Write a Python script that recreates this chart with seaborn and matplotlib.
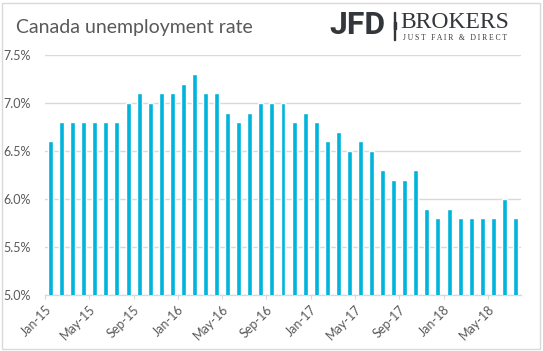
import matplotlib.pyplot as plt
import seaborn as sns
import pandas as pd
import numpy as np
from matplotlib.patches import Rectangle
from matplotlib.ticker import FuncFormatter

# Monthly data, Jan-15 .. Jul-18
months = pd.date_range("2015-01-01", "2018-07-01", freq="MS").strftime("%b-%y").tolist()
rates = [6.6, 6.8, 6.8, 6.8, 6.8, 6.8, 6.8, 7.0, 7.1, 7.0, 7.1, 7.1,
         7.2, 7.3, 7.1, 7.1, 6.9, 6.8, 6.9, 7.0, 7.0, 7.0, 6.8, 6.9,
         6.8, 6.6, 6.7, 6.5, 6.6, 6.5, 6.3, 6.2, 6.2, 6.3, 5.9, 5.8,
         5.9, 5.8, 5.8, 5.8, 5.8, 6.0, 5.8]
y_ticks = [5.0, 5.5, 6.0, 6.5, 7.0, 7.5]
label_step = 4

df = pd.DataFrame({"month": months, "rate": rates})

sns.set_style("white")
plt.rcParams["font.family"] = ["Lato", "DejaVu Sans"]

grey_text = "#595959"
grid_col = "#d9d9d9"
logo_col = "#33363b"

fig = plt.figure(figsize=(5.43, 3.51), dpi=100)
ax = fig.add_axes([45 / 543, 56 / 351, 476 / 543, 240 / 351])

sns.barplot(data=df, x="month", y="rate", ax=ax, color="#00b4dc",
            saturation=1, width=0.45, zorder=3)

ax.set_ylim(5.0, 7.5)
ax.set_yticks(y_ticks)
ax.yaxis.set_major_formatter(FuncFormatter(lambda v, p: f"{v:.1f}%"))
ax.set_xlim(-0.5, len(months) - 0.5)
pos = np.arange(0, len(months), label_step)
ax.set_xticks(pos - 0.5)
ax.set_xticklabels([months[i] for i in pos], rotation=45, ha="right",
                   va="top", rotation_mode="anchor")

ax.set_xlabel("")
ax.set_ylabel("")
ax.grid(axis="y", color=grid_col, linewidth=1, zorder=0)
for s in ["top", "right", "left"]:
    ax.spines[s].set_visible(False)
ax.spines["bottom"].set_color(grid_col)
ax.spines["bottom"].set_linewidth(1)
ax.tick_params(axis="x", labelsize=9, colors=grey_text, length=3,
               color=grid_col, bottom=True, pad=3)
ax.tick_params(axis="y", labelsize=9, colors=grey_text, length=0, pad=10)

# Title
fig.text(16 / 543, 1 - 27 / 351, "Canada unemployment rate", fontsize=14,
         color=grey_text, va="center", ha="left")

# Logo text
fig.text(329 / 543, 1 - 25 / 351, "JFD", fontsize=23, fontweight="bold",
         color=logo_col, va="center", ha="left", family=["Roboto", "DejaVu Sans"])
fig.add_artist(Rectangle((394 / 543, 1 - 40 / 351), 0.8 / 543, 28 / 351,
                         transform=fig.transFigure, color=logo_col))
fig.add_artist(Rectangle((393.5 / 543, 1 - 29 / 351), 2 / 543, 7 / 351,
                         transform=fig.transFigure, color=logo_col))
fig.text(400 / 543, 1 - 23 / 351, "BROKERS", fontsize=17,
         color=logo_col, va="center", ha="left", family=["Liberation Serif"])
fig.text(403 / 543, 1 - 38.5 / 351, "J U S T   F A I R   &   D I R E C T",
         fontsize=5.5, color=logo_col, va="center", ha="left",
         family=["Liberation Serif"])

# Outer border
fig.add_artist(Rectangle((2 / 543, 2 / 351), 538 / 543, 346 / 351,
                         transform=fig.transFigure, fill=False,
                         edgecolor="#d9d9d9", linewidth=1))

fig.savefig("out.png", dpi=100)
